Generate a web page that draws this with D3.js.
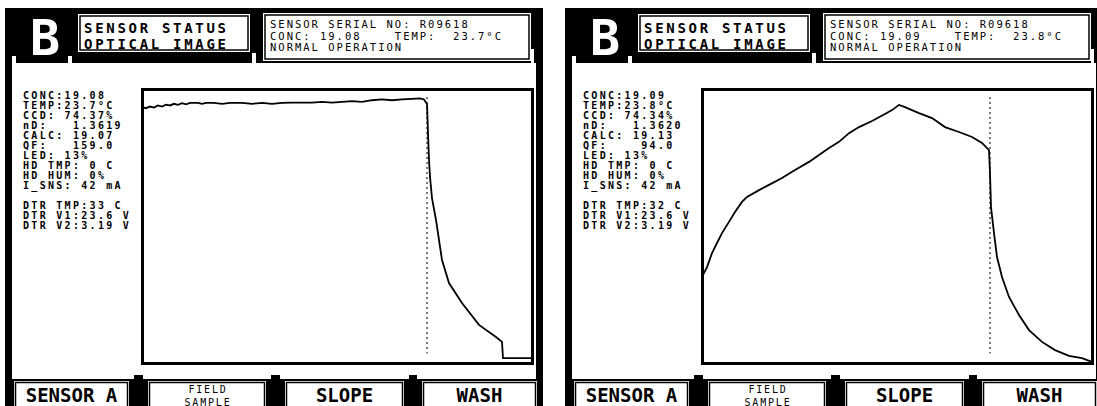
<!DOCTYPE html>
<html><head><meta charset="utf-8">
<script src="https://cdn.jsdelivr.net/npm/d3@7"></script>
<style>
html,body{margin:0;padding:0;background:#fff;overflow:hidden}
svg{display:block}
text{font-family:"DejaVu Sans Mono","Liberation Mono",monospace;white-space:pre}
</style></head><body>
<svg id="c" width="1097" height="406"></svg>
<script>
// ---- data ----
const pixelDomain = [0, 390];
const intensityDomain = [0, 100];

const leftX = [0,4,8,12,16,20,24,28,32,36,40,44,48,56,60,64,72,80,88,100,110,120,130,140,150,160,170,180,190,200,210,220,230,240,250,260,270,278,282,285,286,287,288,290,294,300,307,320,337,354,360,361,390];
const leftY = [93.4,93.0,93.6,93.2,94.0,93.6,94.3,94.0,94.6,94.2,94.8,94.4,94.9,94.9,94.6,94.9,94.9,94.6,94.9,94.9,94.6,94.9,94.6,94.9,95.0,95.0,95.0,95.3,95.0,95.3,95.6,95.3,95.9,96.2,95.9,96.2,96.4,96.6,96.2,94.5,83.9,74.1,67.9,60.2,52.2,37.6,29.2,21.9,13.9,9.5,7.7,1.8,1.8];

const rightX = [0,5,10,15,20,27,33,40,45,57,67,80,93,107,117,127,137,147,157,170,183,190,197,203,217,230,243,257,270,280,287,288,289,292,295,300,307,317,327,340,353,367,380,390];
const rightY = [31.4,35.0,40.1,43.8,47.4,51.5,55.1,58.8,60.6,63.1,65.0,67.5,70.4,73.4,75.9,78.5,80.7,83.9,86.1,88.3,90.9,92.3,94.2,93.4,91.2,89.4,86.1,84.3,82.5,80.3,77.7,69.3,56.9,47.4,38.7,31.4,24.1,17.5,12.0,7.7,4.7,2.6,1.8,0.4];

const markerX = [285, 288];
const markerSpan = [97, 3.6];

const titleLines = ["SENSOR STATUS", "OPTICAL IMAGE"];
const leftHeader = ["SENSOR SERIAL NO: R09618", "CONC: 19.08    TEMP:  23.7°C", "NORMAL OPERATION"];
const rightHeader = ["SENSOR SERIAL NO: R09618", "CONC: 19.09    TEMP:  23.8°C", "NORMAL OPERATION"];

const leftStats = ["CONC:19.08","TEMP:23.7°C","CCD: 74.37%","nD:   1.3619","CALC: 19.07","QF:   159.0","LED: 13%","HD TMP: 0 C","HD HUM: 0%","I_SNS: 42 mA","","DTR TMP:33 C","DTR V1:23.6 V","DTR V2:3.19 V"];
const rightStats = ["CONC:19.09","TEMP:23.8°C","CCD: 74.34%","nD:   1.3620","CALC: 19.13","QF:    94.0","LED: 13%","HD TMP: 0 C","HD HUM: 0%","I_SNS: 42 mA","","DTR TMP:32 C","DTR V1:23.6 V","DTR V2:3.19 V"];

const tabLabels = [["SENSOR A"], ["FIELD", "SAMPLE"], ["SLOPE"], ["WASH"]];

// ---- drawing ----
const svg = d3.select("#c");

function drawPanel(ox, xs, ys, header, stats, mx) {
  const g = svg.append("g").attr("transform", `translate(${ox},0)`);
  const R = (x, y, w, h, fill) => g.append("rect").attr("x", x).attr("y", y).attr("width", w).attr("height", h)
      .attr("fill", fill).attr("shape-rendering", "crispEdges");

  // outer black frame and interior
  R(5, 8, 538, 400, "#000");
  R(12, 63, 524, 317, "#fff");
  R(12, 56, 4, 7, "#fff");
  R(68, 56, 4, 7, "#fff");
  R(252, 53, 4, 10, "#fff");
  R(531, 49, 3, 14, "#fff");

  // big B
  g.append("text").attr("x", 45).attr("y", 55).attr("text-anchor", "middle")
    .attr("font-size", 50).attr("font-weight", "bold").attr("fill", "#fff").text("B");

  // title box
  R(78, 14, 172, 38, "#fff");
  g.append("rect").attr("x", 80).attr("y", 16).attr("width", 168).attr("height", 34)
    .attr("fill", "none").attr("stroke", "#000").attr("stroke-width", 1.5);
  g.selectAll("text.title").data(titleLines).join("text").attr("class", "title")
    .attr("x", 84).attr("y", (d, i) => 33 + i * 16)
    .attr("font-size", 14).attr("font-weight", "bold").attr("letter-spacing", 2.7)
    .attr("fill", "#000").text(d => d);

  // serial box
  R(263, 13, 268, 48, "#fff");
  g.append("rect").attr("x", 265).attr("y", 15).attr("width", 264).attr("height", 44)
    .attr("fill", "none").attr("stroke", "#000").attr("stroke-width", 1.5);
  g.selectAll("text.hdr").data(header).join("text").attr("class", "hdr")
    .attr("x", 270).attr("y", (d, i) => 28 + i * 11.7)
    .attr("font-size", 10.5).attr("letter-spacing", 2.0).attr("xml:space", "preserve")
    .attr("fill", "#000").text(d => d);

  // stats
  g.selectAll("text.st").data(stats).join("text").attr("class", "st")
    .attr("x", 23).attr("y", (d, i) => 99 + i * 10)
    .attr("font-size", 10).attr("font-weight", "bold").attr("letter-spacing", 2.3).attr("xml:space", "preserve")
    .attr("fill", "#000").text(d => d);

  // plot
  const x = d3.scaleLinear().domain(pixelDomain).range([142, 532]);
  const y = d3.scaleLinear().domain(intensityDomain).range([363, 89]);
  g.append("rect").attr("x", x(pixelDomain[0])).attr("y", y(intensityDomain[1]))
    .attr("width", x(pixelDomain[1]) - x(pixelDomain[0])).attr("height", y(intensityDomain[0]) - y(intensityDomain[1]))
    .attr("fill", "#fff").attr("stroke", "#000").attr("stroke-width", 3).attr("shape-rendering", "crispEdges");

  g.append("line").attr("x1", x(mx)).attr("x2", x(mx))
    .attr("y1", y(markerSpan[0])).attr("y2", y(markerSpan[1]))
    .attr("stroke", "#000").attr("stroke-width", 1.4).attr("stroke-dasharray", "1.5 3.5");

  const pts = xs.map((v, i) => [v, ys[i]]);
  g.append("path").datum(pts)
    .attr("d", d3.line().x(d => x(d[0])).y(d => y(d[1])))
    .attr("fill", "none").attr("stroke", "#000").attr("stroke-width", 1.8);

  // bottom tab strip
  R(5, 379, 538, 30, "#000");
  const tabs = [[14, 129], [148, 266], [285, 404], [422, 537]];
  [[131, 146], [268, 283], [406, 420]].forEach(b => R(b[0] + 3, 375, b[1] - b[0] - 6, 5, "#000"));
  tabs.forEach((t, i) => {
    R(t[0], 381, t[1] - t[0], 30, "#fff");
    g.append("rect").attr("x", t[0] + 1.5).attr("y", 382.5).attr("width", t[1] - t[0] - 3).attr("height", 30)
      .attr("fill", "none").attr("stroke", "#000").attr("stroke-width", 1.5);
    const cx = (t[0] + t[1]) / 2;
    const lab = tabLabels[i];
    if (lab.length === 1) {
      g.append("text").attr("x", cx).attr("y", 402).attr("text-anchor", "middle")
        .attr("font-size", 19).attr("font-weight", "bold").attr("fill", "#000").text(lab[0]);
    } else {
      lab.forEach((s, j) => g.append("text").attr("x", cx + 1).attr("y", 393 + j * 12.5).attr("text-anchor", "middle")
        .attr("font-size", 10).attr("letter-spacing", 1.8).attr("fill", "#000").text(s));
    }
  });
}

drawPanel(0, leftX, leftY, leftHeader, leftStats, markerX[0]);
drawPanel(560, rightX, rightY, rightHeader, rightStats, markerX[1]);
</script>
</body></html>
